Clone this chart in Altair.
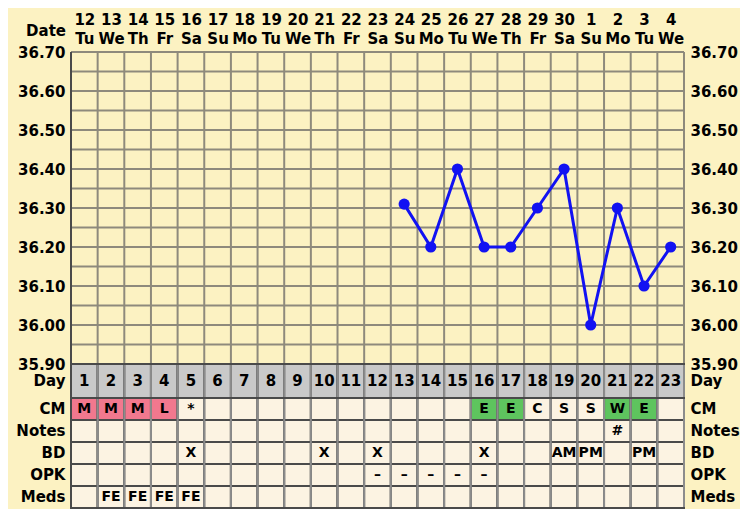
import json
import altair as alt
import pandas as pd

# ---------------- data ----------------
cycle_days = list(range(1, 24))
dates = ["12", "13", "14", "15", "16", "17", "18", "19", "20", "21", "22", "23",
         "24", "25", "26", "27", "28", "29", "30", "1", "2", "3", "4"]
weekdays = ["Tu", "We", "Th", "Fr", "Sa", "Su", "Mo", "Tu", "We", "Th", "Fr", "Sa",
            "Su", "Mo", "Tu", "We", "Th", "Fr", "Sa", "Su", "Mo", "Tu", "We"]

temp_days = [13, 14, 15, 16, 17, 18, 19, 20, 21, 22, 23]
temps = [36.31, 36.20, 36.40, 36.20, 36.20, 36.30, 36.40, 36.00, 36.30, 36.10, 36.20]

temp_ticks = [35.9, 36.0, 36.1, 36.2, 36.3, 36.4, 36.5, 36.6, 36.7]

row_names = ["CM", "Notes", "BD", "OPK", "Meds"]
cm = ["M", "M", "M", "L", "*", "", "", "", "", "", "", "", "", "", "", "E", "E", "C", "S", "S", "W", "E", ""]
notes = ["", "", "", "", "", "", "", "", "", "", "", "", "", "", "", "", "", "", "", "", "#", "", ""]
bd = ["", "", "", "", "X", "", "", "", "", "X", "", "X", "", "", "", "X", "", "", "AM", "PM", "", "PM", ""]
opk = ["", "", "", "", "", "", "", "", "", "", "", "–", "–", "–", "–", "–", "", "", "", "", "", "", ""]
meds = ["", "FE", "FE", "FE", "FE", "", "", "", "", "", "", "", "", "", "", "", "", "", "", "", "", "", ""]

# ---------------- style ----------------
W = 613
H_T = 312
H_D = 34
H_R = 110
FONT = "DejaVu Sans"
BG = "#FCF2C2"
GRID = "#8E8A7C"
DARK = "#4A4A4A"
BLUE = "#1212F2"
CREAM = "#FCF3E2"
DAYGRAY = "#C9C9C9"
PINK = "#F2788E"
GREEN = "#5EC45E"
LEFT_EXT = 63
RIGHT_EXT = 52
LINE_H = 19

flow_codes = {"M", "L"}
fertile_codes = {"E", "W"}

xscale = alt.Scale(domain=[0.5, 23.5], nice=False, zero=False)
tscale = alt.Scale(domain=[35.9, 36.7], nice=False, zero=False)

lab = dict(labelFont=FONT, labelFontSize=15, labelFontWeight="bold", labelColor="#000000",
           ticks=False, domain=False, grid=False, title=None, labelOverlap=False)


def yaxis(orient, **kw):
    ext = LEFT_EXT if orient == "left" else RIGHT_EXT
    return alt.Axis(orient=orient, minExtent=ext, maxExtent=ext, labelPadding=6, **kw, **lab)


label_expr = f"[{json.dumps(dates)}[datum.value-1], {json.dumps(weekdays)}[datum.value-1]]"
top_axis = alt.Axis(orient="top", values=cycle_days, labelExpr=label_expr, labelLineHeight=LINE_H,
                    labelPadding=6 + LINE_H, labelFlush=False, minExtent=44, maxExtent=44, **lab)

one = pd.DataFrame({"k": [0]})
bounds_df = pd.DataFrame({"b": [d - 0.5 for d in cycle_days] + [cycle_days[-1] + 0.5]})

# ---------------- temperature chart ----------------
hgrid_df = pd.DataFrame({"t": [round(35.9 + 0.05 * i, 2) for i in range(17)]})
hgrid = alt.Chart(hgrid_df).mark_rule(color=GRID, strokeWidth=2).encode(
    y=alt.Y("t:Q", scale=tscale, axis=yaxis("left", values=temp_ticks, format=".2f")),
    x=alt.value(0), x2=alt.value(W),
)
vgrid = alt.Chart(bounds_df).mark_rule(color=GRID, strokeWidth=2).encode(
    x=alt.X("b:Q", scale=xscale, axis=top_axis),
    y=alt.value(0), y2=alt.value(H_T),
)
left_border_t = alt.Chart(one).mark_rule(color=DARK, strokeWidth=2).encode(
    x=alt.value(0), y=alt.value(0), y2=alt.value(H_T))
date_lbl = alt.Chart(pd.DataFrame({"label": ["Date"]})).mark_text(
    align="right", baseline="middle", font=FONT, fontSize=15, fontWeight="bold", color="#000000"
).encode(text="label:N", x=alt.value(-5), y=alt.value(-21))

temp_df = pd.DataFrame({"day": temp_days, "temp": temps})
line = alt.Chart(temp_df).mark_line(
    color=BLUE, strokeWidth=3,
    point=alt.OverlayMarkDef(filled=True, size=125, color=BLUE, opacity=1),
).encode(
    x=alt.X("day:Q", scale=xscale, axis=None),
    y=alt.Y("temp:Q", scale=tscale, axis=yaxis("right", values=temp_ticks, format=".2f")),
)

top = alt.layer(hgrid, vgrid, left_border_t, date_lbl, line).resolve_axis(
    x="independent", y="independent").properties(width=W, height=H_T)

# ---------------- day row ----------------
day_df = pd.DataFrame({"day": cycle_days, "label": [str(d) for d in cycle_days], "row": ["Day"] * len(cycle_days)})
dscale = alt.Scale(domain=["Day"], paddingInner=0, paddingOuter=0)
day_rect = alt.Chart(day_df).transform_calculate(
    x0="datum.day - 0.5", x1="datum.day + 0.5"
).mark_rect(fill=DAYGRAY, stroke=DARK, strokeWidth=2).encode(
    x=alt.X("x0:Q", scale=xscale, axis=None), x2="x1:Q",
    y=alt.Y("row:N", scale=dscale, axis=yaxis("left")),
)
day_vl = alt.Chart(bounds_df).mark_rule(color="#8C8C8C", strokeWidth=2).encode(
    x=alt.X("b:Q", scale=xscale, axis=None), y=alt.value(1), y2=alt.value(H_D - 1))
day_txt = alt.Chart(day_df).mark_text(font=FONT, fontSize=15, fontWeight="bold", color="#000000").encode(
    x=alt.X("day:Q", scale=xscale, axis=None),
    y=alt.Y("row:N", scale=dscale, axis=yaxis("right")),
    text="label:N",
)
left_border_d = alt.Chart(one).mark_rule(color=DARK, strokeWidth=2).encode(
    x=alt.value(0), y=alt.value(0), y2=alt.value(H_D))
day_chart = alt.layer(day_rect, day_vl, day_txt, left_border_d).resolve_axis(
    y="independent").properties(width=W, height=H_D)

# ---------------- info rows ----------------
recs = []
for rname, vals in zip(row_names, [cm, notes, bd, opk, meds]):
    for d, v in zip(cycle_days, vals):
        kind = "plain"
        if rname == "CM" and v in flow_codes:
            kind = "flow"
        elif rname == "CM" and v in fertile_codes:
            kind = "fertile"
        recs.append({"day": d, "row": rname, "txt": v, "kind": kind})
rows_df = pd.DataFrame(recs)
rscale = alt.Scale(domain=row_names, paddingInner=0, paddingOuter=0)

cells = alt.Chart(rows_df).transform_calculate(
    x0="datum.day - 0.5", x1="datum.day + 0.5"
).mark_rect(stroke=DARK, strokeWidth=2).encode(
    x=alt.X("x0:Q", scale=xscale, axis=None), x2="x1:Q",
    y=alt.Y("row:N", scale=rscale, axis=yaxis("left")),
    fill=alt.Fill("kind:N", scale=alt.Scale(domain=["plain", "flow", "fertile"],
                                            range=[CREAM, PINK, GREEN]), legend=None),
)
rows_vl = alt.Chart(bounds_df).mark_rule(color="#8C8C8C", strokeWidth=2).encode(
    x=alt.X("b:Q", scale=xscale, axis=None), y=alt.value(1), y2=alt.value(H_R - 1))
cell_txt = alt.Chart(rows_df).mark_text(font=FONT, fontSize=14, fontWeight="bold", color="#000000").encode(
    x=alt.X("day:Q", scale=xscale, axis=None),
    y=alt.Y("row:N", scale=rscale, axis=yaxis("right")),
    text="txt:N",
)
left_border_r = alt.Chart(one).mark_rule(color=DARK, strokeWidth=2).encode(
    x=alt.value(0), y=alt.value(0), y2=alt.value(H_R))
rows_chart = alt.layer(cells, rows_vl, cell_txt, left_border_r).resolve_axis(
    y="independent").properties(width=W, height=H_R)

chart = alt.vconcat(top, day_chart, rows_chart, spacing=0, bounds="flush").properties(
    background=BG, padding={"left": 0, "top": 0, "right": 0, "bottom": 0}
).configure_view(stroke=None, fill=BG)

chart.save("out.html", embed_options={"renderer": "svg", "actions": False})
